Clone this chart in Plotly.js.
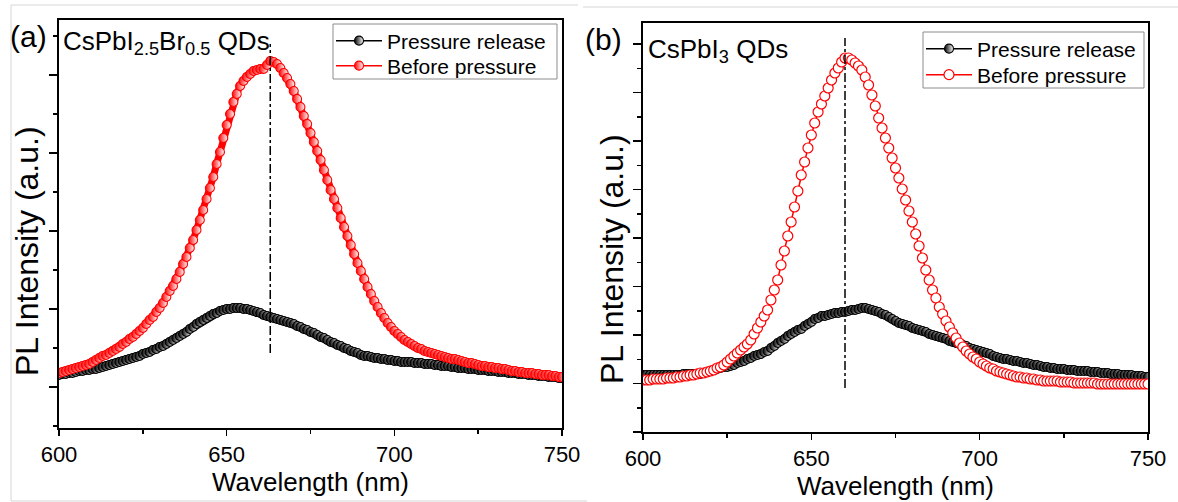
<!DOCTYPE html>
<html>
<head>
<meta charset="utf-8">
<script src="https://cdn.plot.ly/plotly-3.0.1.min.js"></script>
<style>html,body{margin:0;padding:0;background:#fff;}#chart{width:1178px;height:502px;}</style>
</head>
<body>
<div id="chart"></div>
<script>
// Wavelength grid (nm)
const wavelength = [
600,601,602,603,604,605,606,607,608,609,
610,611,612,613,614,615,616,617,618,619,
620,621,622,623,624,625,626,627,628,629,
630,631,632,633,634,635,636,637,638,639,
640,641,642,643,644,645,646,647,648,649,
650,651,652,653,654,655,656,657,658,659,
660,661,662,663,664,665,666,667,668,669,
670,671,672,673,674,675,676,677,678,679,
680,681,682,683,684,685,686,687,688,689,
690,691,692,693,694,695,696,697,698,699,
700,701,702,703,704,705,706,707,708,709,
710,711,712,713,714,715,716,717,718,719,
720,721,722,723,724,725,726,727,728,729,
730,731,732,733,734,735,736,737,738,739,
740,741,742,743,744,745,746,747,748,749,
750];

// Panel (a) CsPbI2.5Br0.5 QDs, PL intensity (arb. units)
const releaseA = [
53,54,54,55,55,56,57,57,58,58,
59,59,60,61,62,63,64,65,66,67,
68,69,70,71,72,74,75,76,78,79,
81,82,84,86,88,90,92,94,96,99,
101,104,106,108,110,112,114,115,117,118,
119,119,120,120,120,119,119,118,117,116,
115,113,112,111,110,109,108,107,106,105,
104,102,101,99,98,96,95,93,91,90,
88,86,85,83,82,80,79,77,76,75,
73,72,72,71,70,70,69,69,68,68,
67,67,66,66,66,66,65,65,65,64,
64,64,63,63,62,62,62,61,61,60,
60,60,59,59,59,58,58,58,57,57,
57,56,56,56,55,55,55,54,54,54,
53,53,53,52,52,52,51,51,51,50,
50];
const beforeA = [
55,56,57,58,59,60,61,62,63,64,
66,68,70,72,73,75,77,79,81,84,
86,89,91,94,97,100,104,108,111,116,
120,125,131,137,142,149,156,164,171,180,
188,198,208,218,229,240,251,264,276,290,
303,314,326,334,342,347,351,354,357,358,
359,359,363,367,366,364,360,355,350,344,
337,329,321,312,304,295,286,277,268,258,
248,238,229,220,210,201,192,183,174,165,
157,149,141,134,127,121,115,110,105,101,
97,94,91,88,86,84,82,80,79,77,
76,75,74,73,72,71,70,69,69,68,
67,66,65,65,64,63,62,62,61,61,
60,60,59,59,58,57,57,56,56,55,
55,55,54,54,53,53,53,52,52,51,
51];

// Panel (b) CsPbI3 QDs, PL intensity (arb. units)
const releaseB = [
57,57,57,57,57,57,57,57,57,57,
57,57,58,58,58,58,58,58,59,60,
61,62,63,64,65,65,66,67,69,70,
71,73,74,76,77,78,80,81,84,86,
89,91,93,96,98,100,102,103,106,108,
110,113,114,116,116,117,118,119,119,120,
120,121,122,122,123,124,124,123,122,121,
120,118,117,115,113,111,109,108,107,106,
104,103,102,101,100,98,97,96,95,94,
93,91,90,89,88,87,86,84,83,82,
81,80,79,78,76,75,74,73,73,72,
71,71,70,69,69,68,67,67,66,65,
65,64,64,63,63,63,62,62,62,61,
61,61,61,60,60,60,59,59,59,58,
58,58,57,57,57,57,56,56,56,55,
55];
const beforeB = [
52,52,52,53,53,53,53,54,54,54,
55,55,56,56,57,57,58,59,59,60,
61,62,64,65,67,70,73,76,79,82,
85,88,92,98,104,110,116,122,132,142,
152,167,181,196,210,225,241,257,270,284,
297,309,320,328,336,344,352,359,364,370,
374,374,372,369,366,362,355,347,337,326,
314,304,294,284,274,264,254,243,232,221,
210,198,186,174,162,152,142,134,125,118,
111,105,99,94,89,85,81,78,75,73,
70,68,66,64,63,61,60,59,58,57,
56,55,55,54,54,53,53,52,52,51,
51,51,51,51,50,50,50,50,49,49,
49,49,49,49,49,48,48,48,48,48,
48,48,48,48,48,48,48,48,48,48,
48];

// Peak positions marked by dash-dot lines (nm)
const peakA = 663;
const peakB = 660;

const seriesNames = ['Pressure release', 'Before pressure'];
const xTickVals = [600, 650, 700, 750];
const sampleLabels = ['CsPbI<sub>2.5</sub>Br<sub>0.5</sub> QDs', 'CsPbI<sub>3</sub> QDs'];
const panelLabels = ['(a)', '(b)'];
const xTitle = 'Wavelength (nm)';
const yTitle = 'PL Intensity (a.u.)';

const FONT = 'Liberation Sans, Arial, Helvetica, sans-serif';
const W = 1178, H = 502;
const px = v => v / W;
const py = v => 1 - v / H;

// thick band under densely packed symbols
function bandLine(y, xa, ya, color) {
  return {
    x: wavelength, y: y, xaxis: xa, yaxis: ya, type: 'scatter',
    mode: 'lines', showlegend: false, hoverinfo: 'skip',
    line: {color: color, width: 7}
  };
}
// densely packed half-filled circle symbols
function symbols(y, xa, ya, color, name, leg) {
  return {
    x: wavelength, y: y, xaxis: xa, yaxis: ya, type: 'scatter',
    mode: 'lines+markers', name: name, legend: leg,
    line: {color: color, width: 1.5},
    marker: {symbol: 'circle', size: 9, color: color,
      gradient: {type: 'horizontal', color: '#ffffff'},
      line: {color: color, width: 1.1}}
  };
}
// open circle symbols
function rings(y, xa, ya, color, name, leg) {
  return {
    x: wavelength, y: y, xaxis: xa, yaxis: ya, type: 'scatter',
    mode: 'lines+markers', name: name, legend: leg,
    line: {color: color, width: 1.5},
    marker: {symbol: 'circle', size: 10, color: '#ffffff',
      line: {color: color, width: 1.2}}
  };
}

const data = [
  bandLine(releaseA, 'x', 'y', '#000000'),
  symbols(releaseA, 'x', 'y', '#000000', seriesNames[0], 'legend'),
  bandLine(beforeA, 'x', 'y', '#ff0000'),
  symbols(beforeA, 'x', 'y', '#ff0000', seriesNames[1], 'legend2'),
  bandLine(releaseB, 'x2', 'y2', '#000000'),
  symbols(releaseB, 'x2', 'y2', '#000000', seriesNames[0], 'legend3'),
  rings(beforeB, 'x2', 'y2', '#ff0000', seriesNames[1], 'legend4')
];

function xAxis(dom, anchor) {
  return {
    domain: dom, anchor: anchor, range: [600, 750],
    tickvals: xTickVals, ticktext: xTickVals.map(String),
    ticks: 'outside', ticklen: 6, tickwidth: 1.5, tickcolor: '#000',
    minor: {dtick: 25, tick0: 600, ticks: 'outside', ticklen: 4, tickwidth: 1.5, tickcolor: '#000', showgrid: false},
    showline: true, linewidth: 2, linecolor: '#000', mirror: true,
    showgrid: false, zeroline: false,
    tickfont: {family: FONT, size: 22, color: '#000'},
    title: {text: xTitle, font: {family: FONT, size: 26, color: '#000'}, standoff: 4}
  };
}
function yAxis(dom, anchor, range, t0, dt) {
  return {
    domain: dom, anchor: anchor, range: range,
    tick0: t0, dtick: dt, showticklabels: false,
    ticks: 'outside', ticklen: 8, tickwidth: 1.5, tickcolor: '#000',
    minor: {tick0: t0 - dt / 2, dtick: dt / 2, ticks: 'outside', ticklen: 4, tickwidth: 1.5, tickcolor: '#000', showgrid: false},
    showline: true, linewidth: 2, linecolor: '#000', mirror: true,
    showgrid: false, zeroline: false
  };
}

function leg(x, yc) {
  return {
    x: px(x), y: py(yc), xanchor: 'left', yanchor: 'middle',
    bgcolor: 'rgba(0,0,0,0)', borderwidth: 0,
    font: {family: FONT, size: 21, color: '#000'},
    itemwidth: 46
  };
}

function ann(x, y, text, size, xanchor, angle) {
  return {xref: 'paper', yref: 'paper', x: px(x), y: py(y), text: text, showarrow: false,
    xanchor: xanchor, yanchor: 'middle', textangle: angle || 0,
    font: {family: FONT, size: size, color: '#000'}};
}

function pline(x0, y0, x1, y1, color) {
  return {type: 'line', xref: 'paper', yref: 'paper', x0: px(x0), x1: px(x1), y0: py(y0), y1: py(y1),
    line: {color: color, width: 1}};
}

const layout = {
  width: W, height: H,
  margin: {l: 0, r: 0, t: 0, b: 0},
  paper_bgcolor: '#ffffff', plot_bgcolor: '#ffffff',
  font: {family: FONT, color: '#000'},
  showlegend: true,
  xaxis: xAxis([px(59), px(562)], 'y'),
  yaxis: yAxis([py(428), py(20)], 'x', [0, 408], 41, 78),
  xaxis2: xAxis([px(643), px(1148)], 'y2'),
  yaxis2: yAxis([py(432), py(23)], 'x2', [0, 409], 0, 48.5),
  legend: leg(331, 41),
  legend2: leg(331, 66),
  legend3: leg(921, 49),
  legend4: leg(921, 75),
  annotations: [
    ann(28, 36, panelLabels[0], 30, 'center'),
    ann(603, 39, panelLabels[1], 30, 'center'),
    ann(61, 42, sampleLabels[0], 26, 'left'),
    ann(646, 50, sampleLabels[1], 26, 'left'),
    ann(27, 251, yTitle, 32, 'center', -90),
    ann(612, 259, yTitle, 32, 'center', -90)
  ],
  shapes: [
    {type: 'line', xref: 'x', yref: 'y', x0: peakA, x1: peakA, y0: 75, y1: 384,
     line: {color: '#000', width: 1.5, dash: 'dashdot'}},
    {type: 'line', xref: 'x2', yref: 'y2', x0: peakB, x1: peakB, y0: 44, y1: 394,
     line: {color: '#000', width: 1.5, dash: 'dashdot'}},
    {type: 'rect', xref: 'paper', yref: 'paper', layer: 'above',
     x0: px(333), x1: px(557), y0: py(24), y1: py(79),
     fillcolor: '#ffffff', line: {color: '#8c8c8c', width: 1}},
    {type: 'rect', xref: 'paper', yref: 'paper', layer: 'above',
     x0: px(923), x1: px(1144), y0: py(32), y1: py(88),
     fillcolor: '#ffffff', line: {color: '#8c8c8c', width: 1}},
    pline(11, 5, 578, 5, '#d6d6d6'),
    pline(11, 5, 11, 501, '#d6d6d6'),
    pline(11, 501, 587, 501, '#d6d6d6'),
    pline(583, 7, 1178, 7, '#d6d6d6')
  ]
};

Plotly.newPlot('chart', data, layout, {displayModeBar: false, staticPlot: true});
</script>
</body>
</html>
